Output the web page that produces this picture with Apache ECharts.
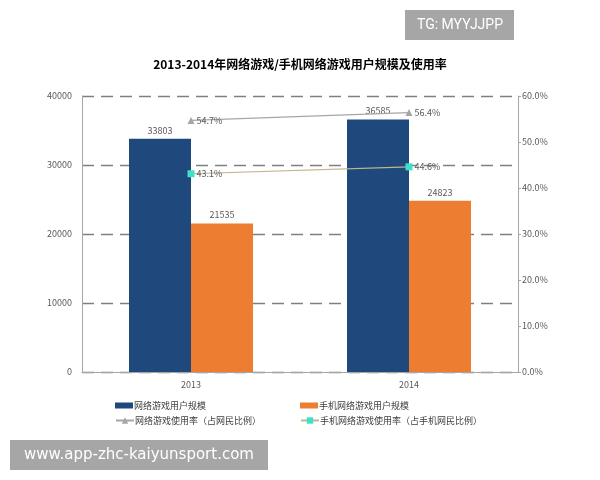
<!DOCTYPE html>
<html><head><meta charset="utf-8">
<script src="https://cdn.jsdelivr.net/npm/echarts@6/dist/echarts.min.js"></script>
<style>html,body{margin:0;padding:0;background:#fff}#c{width:600px;height:480px}</style>
</head><body><div id="c"></div>
<script>
const categories = ['2013', '2014'];
const pcUsers = [33803, 36585];
const mobileUsers = [21535, 24823];
const pcRate = [54.7, 56.4];
const mobileRate = [43.1, 44.6];
const leftTicks = [0, 10000, 20000, 30000, 40000];
const rightTicks = [0, 10, 20, 30, 40, 50, 60];
const names = ['网络游戏用户规模', '手机网络游戏用户规模', '网络游戏使用率（占网民比例）', '手机网络游戏使用率（占手机网民比例）'];

const chart = echarts.init(document.getElementById('c'));
const txt = '#595959';
const fontFam = '"Noto Sans CJK SC", "DejaVu Sans", sans-serif';
const labelStyle = {fontSize: 9, color: txt, fontFamily: fontFam};
function leg(name, left, top, icon) {
  return {data: [{name: name, icon: icon}], left: left, top: top, itemWidth: 18, itemHeight: icon === 'rect' ? 6 : 8,
    itemGap: 0, textStyle: {fontSize: 9, color: '#404040', fontFamily: fontFam, padding: [0, 0, 0, -4]}, padding: 0, selectedMode: false};
}
chart.setOption({
  animation: false,
  title: [{text: '2013-2014年网络游戏/手机网络游戏用户规模及使用率', left: 'center', top: 53,
    textStyle: {fontSize: 12, fontWeight: 'bold', color: '#000', fontFamily: fontFam}}],
  legend: [
    leg(names[0], 115, 401, 'rect'),
    leg(names[1], 300, 401, 'rect'),
    leg(names[2], 115, 416),
    leg(names[3], 300, 416)
  ],
  grid: {left: 82, right: 82, top: 96, bottom: 108, containLabel: false},
  xAxis: {type: 'category', data: categories,
    axisLine: {lineStyle: {color: '#a6a6a6', width: 1}}, axisTick: {show: false},
    axisLabel: {color: txt, fontSize: 9, fontFamily: fontFam, margin: 8}},
  yAxis: [
    {type: 'value', min: leftTicks[0], max: leftTicks[leftTicks.length - 1], interval: leftTicks[1] - leftTicks[0],
      axisLine: {show: true, lineStyle: {color: '#a6a6a6'}}, axisTick: {show: false},
      axisLabel: {color: txt, fontSize: 9, fontFamily: fontFam, margin: 10, formatter: v => String(v)},
      splitLine: {show: true, lineStyle: {color: '#7f7f7f', width: 1.3, type: [12, 7]}}},
    {type: 'value', min: rightTicks[0], max: rightTicks[rightTicks.length - 1], interval: rightTicks[1] - rightTicks[0], position: 'right',
      axisLine: {show: true, lineStyle: {color: '#a6a6a6'}},
      axisTick: {show: true, length: 3, inside: false, lineStyle: {color: '#a6a6a6'}},
      axisLabel: {color: txt, fontSize: 9, fontFamily: fontFam, margin: 4, formatter: v => v.toFixed(1) + '%'},
      splitLine: {show: false}}
  ],
  series: [
    {name: names[0], type: 'bar', data: pcUsers, barWidth: 62, barGap: '0%',
      itemStyle: {color: '#1f497d'}, label: {show: true, position: 'top', distance: 4, ...labelStyle}},
    {name: names[1], type: 'bar', data: mobileUsers, barWidth: 62, barGap: '0%',
      itemStyle: {color: '#ed7d31'}, label: {show: true, position: 'top', distance: 4, ...labelStyle}},
    {name: names[2], type: 'line', yAxisIndex: 1, data: pcRate, symbol: 'triangle', symbolSize: 7,
      lineStyle: {color: '#a6a6a6', width: 1.2}, itemStyle: {color: '#a6a6a6'},
      label: {show: true, position: 'right', distance: 2, formatter: p => p.value.toFixed(1) + '%', ...labelStyle}},
    {name: names[3], type: 'line', yAxisIndex: 1, data: mobileRate, symbol: 'rect', symbolSize: 7,
      lineStyle: {color: '#c3b48a', width: 1.2}, itemStyle: {color: '#40e0c8'},
      label: {show: true, position: 'right', distance: 2, formatter: p => p.value.toFixed(1) + '%', ...labelStyle}}
  ],
  graphic: [
    {type: 'rect', shape: {x: 405, y: 10, width: 109, height: 30}, style: {fill: '#a6a6a6'}},
    {type: 'text', x: 460, y: 25, style: {text: 'TG: MYYJJPP', fill: '#fff', fontSize: 14, fontFamily: 'Roboto, "DejaVu Sans", sans-serif', align: 'center', verticalAlign: 'middle'}},
    {type: 'rect', shape: {x: 10, y: 440, width: 258, height: 30}, style: {fill: '#a6a6a6'}},
    {type: 'text', x: 139, y: 455, style: {text: 'www.app-zhc-kaiyunsport.com', fill: '#fff', fontSize: 15, fontFamily: '"DejaVu Sans", sans-serif', align: 'center', verticalAlign: 'middle'}}
  ]
});
</script></body></html>
